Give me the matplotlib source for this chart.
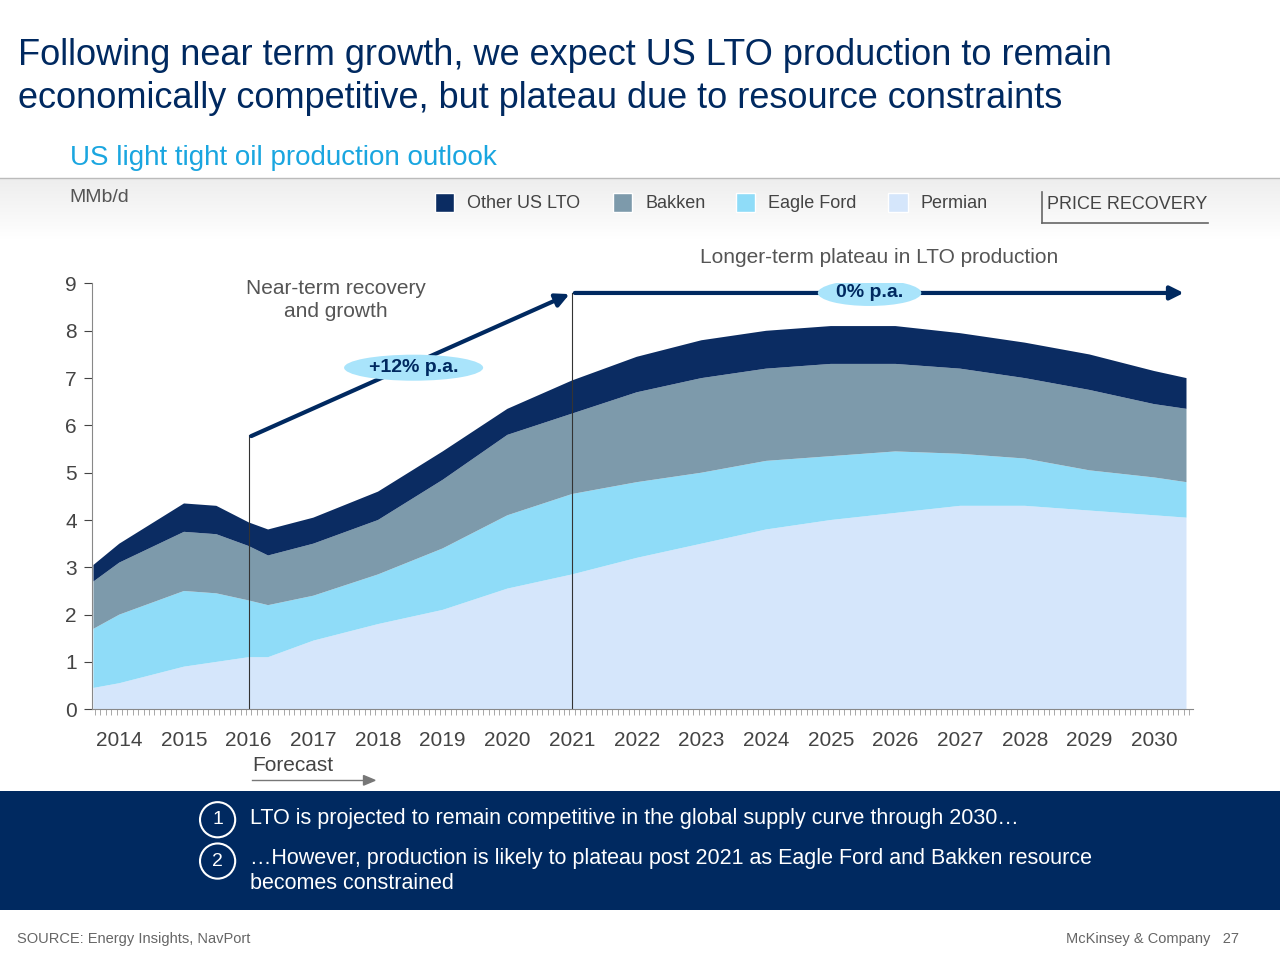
import matplotlib.pyplot as plt
from matplotlib.patches import Rectangle, Ellipse
import numpy as np

plt.rcParams["font.family"] = ["Liberation Sans", "DejaVu Sans"]

NAVY = "#002960"

years = [2013.6, 2014, 2015, 2015.5, 2016, 2016.3, 2017, 2018, 2019, 2020, 2021,
         2022, 2023, 2024, 2025, 2026, 2027, 2028, 2029, 2030, 2030.5]
permian = [0.45, 0.55, 0.9, 1.0, 1.1, 1.1, 1.45, 1.8, 2.1, 2.55, 2.85,
           3.2, 3.5, 3.8, 4.0, 4.15, 4.3, 4.3, 4.2, 4.1, 4.05]
eagle_ford = [1.25, 1.45, 1.6, 1.45, 1.2, 1.1, 0.95, 1.05, 1.3, 1.55, 1.7,
              1.6, 1.5, 1.45, 1.35, 1.3, 1.1, 1.0, 0.85, 0.8, 0.75]
bakken = [1.0, 1.1, 1.25, 1.25, 1.15, 1.05, 1.1, 1.15, 1.45, 1.7, 1.7,
          1.9, 2.0, 1.95, 1.95, 1.85, 1.8, 1.7, 1.7, 1.55, 1.55]
other = [0.35, 0.4, 0.6, 0.6, 0.5, 0.55, 0.55, 0.6, 0.6, 0.55, 0.7,
         0.75, 0.8, 0.8, 0.8, 0.8, 0.75, 0.75, 0.75, 0.7, 0.65]

series_names = ["Other US LTO", "Bakken", "Eagle Ford", "Permian"]
series_colors = ["#0b2c62", "#7d9aab", "#8fdcf8", "#d5e6fb"]
tick_years = list(range(2014, 2031))

fig = plt.figure(figsize=(12.8, 9.61), dpi=100)

# header
fig.text(0.014, 0.942, "Following near term growth, we expect US LTO production to remain",
         fontsize=26, color=NAVY, va="center")
fig.text(0.014, 0.897, "economically competitive, but plateau due to resource constraints",
         fontsize=26, color=NAVY, va="center")
fig.text(0.055, 0.836, "US light tight oil production outlook", fontsize=20, color="#1aa6e0", va="center")
grad = np.linspace(0.93, 1.0, 50).reshape(-1, 1)
bg = fig.add_axes([0, 0.75, 1, 0.065], zorder=-5)
bg.imshow(np.dstack([grad] * 3), aspect="auto", extent=[0, 1, 0, 1])
bg.axis("off")
fig.add_artist(plt.Line2D([0, 1], [0.815, 0.815], color="#bbbbbb", lw=1))
fig.text(0.054, 0.794, "MMb/d", fontsize=14, color="#555555", va="center")

# legend
leg_x = [0.340, 0.479, 0.575, 0.694]
for x, name, c in zip(leg_x, series_names, series_colors):
    fig.add_artist(Rectangle((x, 0.779), 0.015, 0.02, transform=fig.transFigure,
                             facecolor=c, edgecolor="white"))
    fig.text(x + 0.025, 0.788, name, fontsize=13, color="#444444", va="center")
fig.text(0.818, 0.787, "PRICE RECOVERY", fontsize=13, color="#444444", va="center")
fig.add_artist(plt.Line2D([0.814, 0.944], [0.768, 0.768], color="#666666", lw=1.2))
fig.add_artist(plt.Line2D([0.814, 0.814], [0.768, 0.8], color="#666666", lw=1.2))

# chart
ax = fig.add_axes([0.072, 0.262, 0.86, 0.443])
ax.stackplot(years, permian, eagle_ford, bakken, other,
             colors=series_colors[::-1], linewidth=0)
ax.set_xlim(2013.58, 2030.6)
ax.set_ylim(0, 9)
ax.set_yticks(range(10))
ax.set_xticks(tick_years)
ax.set_xticks(np.arange(2013.625, 2030.6, 1 / 12), minor=True)
ax.tick_params(axis="x", which="major", length=0, labelsize=15, colors="#444444", pad=16)
ax.tick_params(axis="x", which="minor", length=4, color="#999999")
ax.tick_params(axis="y", length=6, labelsize=15, colors="#444444", direction="out", pad=5)
for s in ["top", "right"]:
    ax.spines[s].set_visible(False)
for s in ["left", "bottom"]:
    ax.spines[s].set_color("#888888")

ax.plot([2016, 2016], [0, 5.8], color="#333333", lw=0.8)
ax.plot([2021, 2021], [0, 8.8], color="#333333", lw=0.8)
ax.annotate("", xy=(2021, 8.8), xytext=(2016, 5.75),
            arrowprops=dict(arrowstyle="-|>,head_width=0.4,head_length=0.8", color=NAVY, lw=3))
ax.annotate("", xy=(2030.5, 8.8), xytext=(2021, 8.8),
            arrowprops=dict(arrowstyle="-|>,head_width=0.4,head_length=0.8", color=NAVY, lw=3))
ax.add_patch(Ellipse((2018.55, 7.22), 2.15, 0.55, facecolor="#a9e4fb", edgecolor="none", zorder=5))
ax.text(2018.55, 7.22, "+12% p.a.", fontsize=14, fontweight="bold", color=NAVY,
        ha="center", va="center", zorder=6)
ax.add_patch(Ellipse((2025.6, 8.8), 1.6, 0.55, facecolor="#a9e4fb", edgecolor="none", zorder=5))
ax.text(2025.6, 8.8, "0% p.a.", fontsize=14, fontweight="bold", color=NAVY,
        ha="center", va="center", zorder=6)
ax.text(2017.35, 8.65, "Near-term recovery\nand growth", fontsize=15, color="#555555",
        ha="center", va="center", linespacing=1.3)
ax.text(2025.75, 9.55, "Longer-term plateau in LTO production", fontsize=15, color="#555555",
        ha="center", va="center", clip_on=False)

fig.text(0.197, 0.203, "Forecast", fontsize=15, color="#444444", va="center")
fig.add_artist(plt.Line2D([0.197, 0.29], [0.188, 0.188], color="#777777", lw=1))
fig.add_artist(plt.Polygon([[0.293, 0.188], [0.284, 0.193], [0.284, 0.183]],
                           transform=fig.transFigure, color="#777777"))

# bottom box
fig.add_artist(Rectangle((0, 0.053), 1, 0.124, transform=fig.transFigure,
                         facecolor=NAVY, edgecolor="none"))
for cy, num in [(0.147, "1"), (0.104, "2")]:
    fig.add_artist(Ellipse((0.170, cy), 0.0275, 0.0366, transform=fig.transFigure,
                           facecolor="none", edgecolor="white", lw=1.5))
    fig.text(0.170, cy, num, fontsize=14, color="white", ha="center", va="center")
fig.text(0.195, 0.148, "LTO is projected to remain competitive in the global supply curve through 2030…",
         fontsize=15.5, color="white", va="center")
fig.text(0.195, 0.107, "…However, production is likely to plateau post 2021 as Eagle Ford and Bakken resource",
         fontsize=15.5, color="white", va="center")
fig.text(0.195, 0.081, "becomes constrained", fontsize=15.5, color="white", va="center")

fig.text(0.013, 0.023, "SOURCE: Energy Insights, NavPort", fontsize=10.5, color="#666666", va="center")
fig.text(0.968, 0.023, "McKinsey & Company   27", fontsize=10.5, color="#666666", va="center", ha="right")

fig.savefig("out.png", dpi=100)
